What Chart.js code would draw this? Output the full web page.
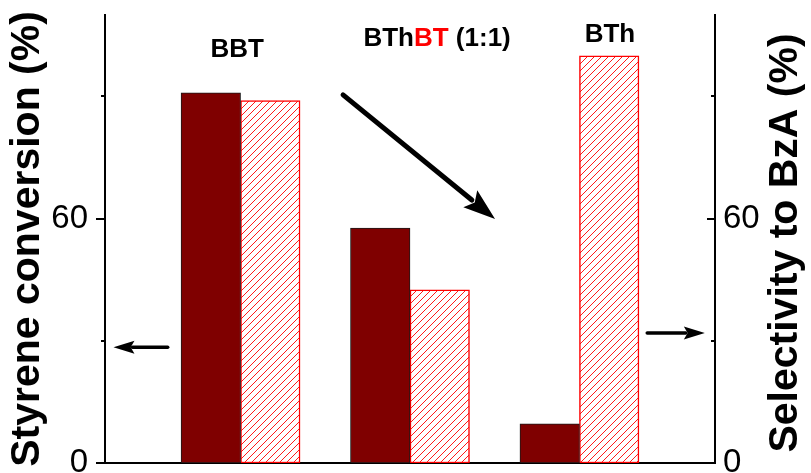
<!DOCTYPE html>
<html>
<head>
<meta charset="utf-8">
<script src="https://cdn.jsdelivr.net/npm/chart.js@4/dist/chart.umd.min.js"></script>
<style>
  html, body { margin: 0; padding: 0; background: #fff; }
  #wrap { width: 811px; height: 473px; }
</style>
</head>
<body>
<div id="wrap"><canvas id="c" width="811" height="473"></canvas></div>
<script>
// Catalysts and measured values (%)
const categories = ['BBT', 'BThBT (1:1)', 'BTh'];
const conversion = [90.9, 57.7, 9.6];     // styrene conversion, left axis
const selectivity = [89.0, 42.5, 100.0];  // selectivity to benzaldehyde, right axis

const majorTicks = [0, 60];
const minorTicks = [30, 90];
const yRange = [0, 110];
const xRange = [-0.8, 2.8];

const leftTitle = 'Styrene conversion (%)';
const rightTitle = 'Selectivity to BzA (%)';

// Catalyst names over each pair of bars, placed in (bar index, %) coordinates
const nameLabels = [
  { x: -0.02, y: 99.7,  parts: [['BBT', '#000000']] },
  { x: 1.16,  y: 102.4, parts: [['BTh', '#000000'], ['BT', '#ff0000'], [' (1:1)', '#000000']] },
  { x: 2.18,  y: 103.4, parts: [['BTh', '#000000']] }
];

// Arrows: which axis each one refers to, and the overall trend
const arrows = [
  { from: [-0.43, 28.4], to: [-0.75, 28.4], size: 'small' },
  { from: [2.40, 31.9],  to: [2.74, 31.9],  size: 'small' },
  { from: [0.605, 90.4], to: [1.502, 59.9], size: 'large' }
];

const FONT = '"Liberation Sans", Arial, Helvetica, sans-serif';
const canvas = document.getElementById('c');
const ctx2d = canvas.getContext('2d');

function makeHatch(color, gap) {
  const tile = document.createElement('canvas');
  tile.width = gap; tile.height = gap;
  const g = tile.getContext('2d');
  g.fillStyle = '#ffffff';
  g.fillRect(0, 0, gap, gap);
  g.strokeStyle = color;
  g.lineWidth = 1;
  for (const o of [-gap, 0, gap]) {
    g.beginPath();
    g.moveTo(o, gap);
    g.lineTo(o + gap, 0);
    g.stroke();
  }
  return ctx2d.createPattern(tile, 'repeat');
}

function drawArrow(ctx, x0, y0, x1, y1, lw, headLen, headHalf) {
  const dx = x1 - x0, dy = y1 - y0;
  const len = Math.hypot(dx, dy);
  const ux = dx / len, uy = dy / len;
  const bx = x1 - ux * headLen, by = y1 - uy * headLen;
  ctx.lineWidth = lw;
  ctx.lineCap = 'round';
  ctx.beginPath();
  ctx.moveTo(x0, y0);
  ctx.lineTo(bx + ux * 2, by + uy * 2);
  ctx.stroke();
  ctx.beginPath();
  ctx.moveTo(x1, y1);
  ctx.lineTo(bx - uy * headHalf, by + ux * headHalf);
  ctx.lineTo(x1 - ux * headLen * 0.82, y1 - uy * headLen * 0.82);
  ctx.lineTo(bx + uy * headHalf, by - ux * headHalf);
  ctx.closePath();
  ctx.fill();
}

const decorations = {
  id: 'decorations',
  afterDraw(chart) {
    const { ctx, chartArea, scales } = chart;
    const { x, y, y1 } = scales;
    const L = chartArea.left, R = chartArea.right;
    ctx.save();
    ctx.strokeStyle = '#000';
    ctx.fillStyle = '#000';
    ctx.lineWidth = 2;
    const mark = (xa, xb, py) => {
      ctx.beginPath();
      ctx.moveTo(xa, py);
      ctx.lineTo(xb, py);
      ctx.stroke();
    };
    // left axis ticks point outward, right axis ticks point inward
    majorTicks.forEach(v => mark(L - 9, L, Math.round(y.getPixelForValue(v))));
    minorTicks.forEach(v => mark(L - 4, L, Math.round(y.getPixelForValue(v))));
    majorTicks.forEach(v => { if (v > 0) mark(R - 8, R, Math.round(y1.getPixelForValue(v))); });
    minorTicks.forEach(v => mark(R - 4, R, Math.round(y1.getPixelForValue(v))));

    // right-hand axis title, reading bottom to top like the left one
    ctx.save();
    ctx.font = 'bold 41px ' + FONT;
    ctx.fillStyle = '#000';
    ctx.textAlign = 'center';
    ctx.textBaseline = 'alphabetic';
    ctx.translate(chart.width - 14, (chartArea.top + chartArea.bottom) / 2 + 4);
    ctx.rotate(-Math.PI / 2);
    ctx.fillText(rightTitle, 0, 0);
    ctx.restore();

    // catalyst names
    ctx.font = 'bold 26px ' + FONT;
    ctx.textBaseline = 'alphabetic';
    ctx.textAlign = 'left';
    nameLabels.forEach(lab => {
      const total = lab.parts.reduce((s, p) => s + ctx.measureText(p[0]).width, 0);
      let px = x.getPixelForValue(lab.x) - total / 2;
      const py = y.getPixelForValue(lab.y);
      lab.parts.forEach(([t, col]) => {
        ctx.fillStyle = col;
        ctx.fillText(t, px, py);
        px += ctx.measureText(t).width;
      });
    });

    // arrows
    ctx.fillStyle = '#000';
    ctx.strokeStyle = '#000';
    arrows.forEach(a => {
      const x0 = x.getPixelForValue(a.from[0]), y0 = y.getPixelForValue(a.from[1]);
      const x1 = x.getPixelForValue(a.to[0]), y1p = y.getPixelForValue(a.to[1]);
      if (a.size === 'large') drawArrow(ctx, x0, y0, x1, y1p, 5, 32, 11);
      else drawArrow(ctx, x0, y0, x1, y1p, 3.5, 21, 6.5);
    });
    ctx.restore();
  }
};

const hatch = makeHatch('#ff1a1a', 7);

const yTitleFont = { family: FONT, size: 41, weight: 'bold', lineHeight: 1 };
const yTickFont = { family: FONT, size: 33 };

new Chart(canvas, {
  type: 'bar',
  data: {
    datasets: [
      {
        label: leftTitle,
        data: categories.map((c, i) => ({ x: i, y: conversion[i] })),
        yAxisID: 'y',
        backgroundColor: '#7f0000',
        borderColor: '#1a1a1a',
        borderWidth: 1,
        borderSkipped: false,
        barThickness: 59.5
      },
      {
        label: rightTitle,
        data: categories.map((c, i) => ({ x: i, y: selectivity[i] })),
        yAxisID: 'y1',
        backgroundColor: hatch,
        borderColor: '#ff0000',
        borderWidth: 1.5,
        borderSkipped: false,
        barThickness: 59.5
      }
    ]
  },
  options: {
    responsive: false,
    animation: false,
    devicePixelRatio: 1,
    layout: { padding: { top: 15, bottom: 0, left: 0, right: 0 } },
    plugins: { legend: { display: false }, tooltip: { enabled: false } },
    scales: {
      x: {
        type: 'linear',
        min: xRange[0],
        max: xRange[1],
        offset: false,
        grid: { display: false, drawTicks: false },
        ticks: { display: false },
        border: { display: true, color: '#000', width: 2 },
        afterFit(s) { s.height = 10; s.paddingLeft = 0; s.paddingRight = 0; }
      },
      y: {
        type: 'linear',
        position: 'left',
        min: yRange[0],
        max: yRange[1],
        afterBuildTicks(s) { s.ticks = majorTicks.map(v => ({ value: v })); },
        ticks: { padding: 17, color: '#000', font: yTickFont },
        grid: { display: false, drawTicks: false },
        border: { display: true, color: '#000', width: 2 },
        title: {
          display: true,
          text: leftTitle,
          color: '#000',
          font: yTitleFont,
          padding: { top: 7, bottom: 0 }
        },
        afterFit(s) { s.width = 105; s.paddingTop = 0; s.paddingBottom = 0; }
      },
      y1: {
        type: 'linear',
        position: 'right',
        min: yRange[0],
        max: yRange[1],
        afterBuildTicks(s) { s.ticks = majorTicks.map(v => ({ value: v })); },
        ticks: { padding: 8, color: '#000', font: yTickFont },
        grid: { display: false, drawTicks: false },
        border: { display: true, color: '#000', width: 2 },
        title: { display: false },
        afterFit(s) { s.width = 96; s.paddingTop = 0; s.paddingBottom = 0; }
      }
    }
  },
  plugins: [decorations]
});
</script>
</body>
</html>
